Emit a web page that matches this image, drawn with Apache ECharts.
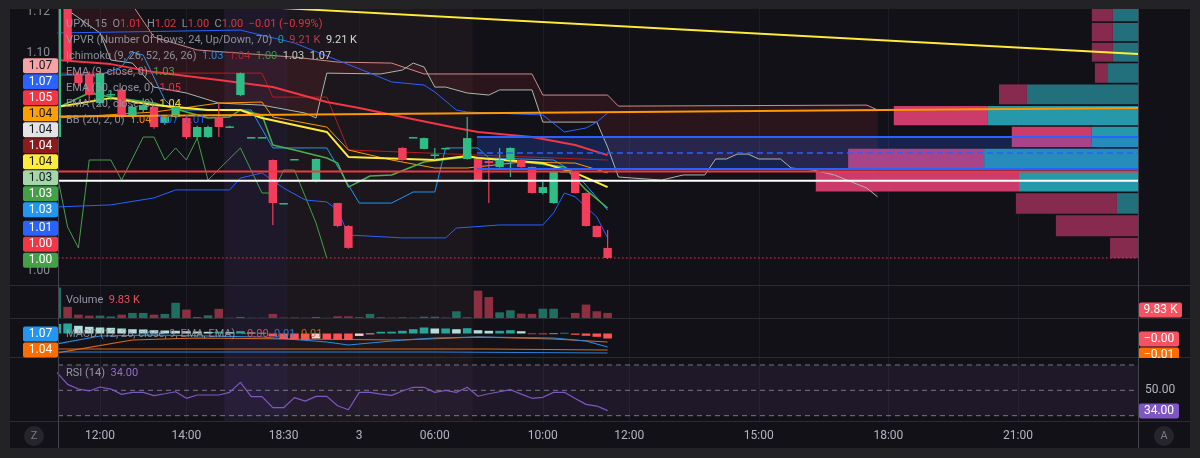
<!DOCTYPE html>
<html><head><meta charset="utf-8">
<script src="https://cdn.jsdelivr.net/npm/echarts@6/dist/echarts.min.js"></script>
<style>html,body{margin:0;padding:0;background:#131118;}#c{width:1200px;height:458px;}</style>
</head><body><div id="c"></div>
<script>
// ---------------- DATA ----------------
// bar index k (15-min bars, gaps skipped); time axis ticks
const tickIdx = [4, 12, 21, 28, 35, 45, 53, 65, 77, 89];
const tickText = ['12:00', '14:00', '18:30', '3', '06:00', '10:00', '12:00', '15:00', '18:00', '21:00'];
// price axis labels
const priceTicks = [0.9937, 1.10, 1.12];
const priceTickText = ['1.00', '1.10', '1.12'];
// candles: [k, open, close, low, high]
const candles = [
  [0, 1.0590, 1.1250, 1.0580, 1.1300], [1, 1.1250, 1.0966, 1.0950, 1.1300],
  [2, 1.0898, 1.0854, 1.0840, 1.0910], [3, 1.0898, 1.0795, 1.0760, 1.0910],
  [4, 1.0756, 1.0902, 1.0740, 1.0910], [5, 1.0795, 1.0800, 1.0770, 1.0820],
  [6, 1.0820, 1.0688, 1.0680, 1.0830], [7, 1.0688, 1.0737, 1.0680, 1.0745],
  [8, 1.0722, 1.0746, 1.0710, 1.0780], [9, 1.0737, 1.0639, 1.0630, 1.0745],
  [10, 1.0659, 1.0688, 1.0650, 1.0690], [11, 1.0688, 1.0737, 1.0680, 1.0745],
  [12, 1.0683, 1.0590, 1.0580, 1.0690], [13, 1.0590, 1.0639, 1.0585, 1.0645],
  [14, 1.0590, 1.0639, 1.0585, 1.0645], [15, 1.0688, 1.0639, 1.0590, 1.0756],
  [16, 1.0640, 1.0642, 1.0635, 1.0645], [17, 1.0795, 1.0902, 1.0790, 1.0905],
  [18, 1.0590, 1.0590, 1.0590, 1.0590], [19, 1.0590, 1.0590, 1.0590, 1.0590],
  [20, 1.0478, 1.0268, 1.0161, 1.0480], [21, 1.0268, 1.0268, 1.0268, 1.0268],
  [22, 1.0483, 1.0483, 1.0483, 1.0483], [24, 1.0376, 1.0483, 1.0370, 1.0485],
  [26, 1.0268, 1.0156, 1.0150, 1.0270], [27, 1.0156, 1.0049, 1.0045, 1.0160],
  [32, 1.0537, 1.0478, 1.0475, 1.0540], [33, 1.0590, 1.0590, 1.0590, 1.0590],
  [34, 1.0532, 1.0585, 1.0530, 1.0588], [35, 1.0500, 1.0505, 1.0478, 1.0537],
  [36, 1.0537, 1.0537, 1.0537, 1.0537], [38, 1.0483, 1.0585, 1.0480, 1.0688],
  [39, 1.0483, 1.0380, 1.0378, 1.0485], [40, 1.0473, 1.0463, 1.0268, 1.0478],
  [41, 1.0444, 1.0478, 1.0440, 1.0537], [42, 1.0478, 1.0537, 1.0395, 1.0540],
  [43, 1.0478, 1.0444, 1.0440, 1.0480], [44, 1.0444, 1.0317, 1.0315, 1.0446],
  [45, 1.0317, 1.0346, 1.0310, 1.0371], [46, 1.0268, 1.0424, 1.0265, 1.0426],
  [47, 1.0424, 1.0424, 1.0424, 1.0424], [48, 1.0424, 1.0317, 1.0315, 1.0426],
  [49, 1.0317, 1.0156, 1.0154, 1.0319], [50, 1.0156, 1.0102, 1.0100, 1.0158],
  [51, 1.0049, 1.0000, 0.9995, 1.0137]
];
const lastClose = 1.0000;
// volume (K) per bar, and direction (1 up / 0 down)
const volume = [59, 21.6, 6.5, 4.6, 4.6, 3, 6.5, 9.8, 9.8, 6.5,
  7.9, 29.5, 16.4, 2, 5.2, 17.7, 0.5, 2, 0.5, 0.5,
  7.9, 0.8, 1, 0.6, 2, 0.5, 3.3, 3.3, 1.5, 7.9,
  1.5, 0.8, 1.5, 0.8, 2.5, 2.5, 1, 13, 1.5, 53,
  40.6, 11, 15, 8.5, 7.9, 18, 18, 0.5, 9.8, 26,
  13, 9.83];
const volUp = [1,0,0,0,1,1,0,1,1,0, 1,1,0,1,1,0,1,1,1,1, 0,1,1,1,1,0,0,0,1,1,
  1,1,0,1,1,1,1,1,1,0, 0,1,1,0,0,1,1,1,0,0, 0,0];
// indicator lines [k, price]
const ema50 = [[0,1.0966],[5,1.0946],[9,1.0907],[15,1.0868],[20,1.0834],[22,1.0805],[25,1.0761],[28,1.0732],[32,1.0688],[37,1.0634],[39,1.0615],[44,1.0590],[48,1.0551],[51,1.0502]];
const ema20 = [[0,1.0737],[5,1.0780],[9,1.0746],[14,1.0722],[17,1.0722],[19,1.0683],[22,1.0649],[25,1.0615],[27,1.0493],[35,1.0478],[38,1.0498],[39,1.0488],[45,1.0463],[48,1.0415],[51,1.0346]];
const ema9 = [[0,1.0732],[3,1.0805],[5,1.0785],[9,1.0756],[12,1.0712],[14,1.0683],[16,1.0688],[17,1.0722],[19,1.0698],[20,1.0551],[22,1.0527],[25,1.0488],[26,1.0463],[27,1.0346],[29,1.0400],[31,1.0405],[34,1.0468],[38,1.0493],[44,1.0463],[47,1.0444],[49,1.0332],[51,1.0244]];
const bbMid = [[0,1.0683],[9,1.0712],[15,1.0756],[19,1.0761],[20,1.0688],[25,1.0639],[27,1.0527],[31,1.0478],[35,1.0439],[38,1.0439],[43,1.0468],[48,1.0463],[51,1.0415]];
const bbUp = [[0,1.1098],[17,1.1112],[22,1.1049],[29,1.0902],[31,1.0859],[34,1.0844],[35,1.0810],[37,1.0722],[38,1.0712],[45,1.0698],[47,1.0615],[49,1.0634],[50,1.0663],[51,1.0707]];
const bbLow = [[0,1.0249],[5,1.0259],[9,1.0293],[11,1.0332],[16,1.0332],[17,1.0390],[19,1.0415],[21,1.0341],[23,1.0283],[25,1.0273],[26,1.0234],[27,1.0112],[32,1.0098],[36,1.0098],[37,1.0146],[41,1.0161],[45,1.0161],[46,1.0220],[47,1.0317],[48,1.0298],[50,1.0200],[51,1.0098]];
const tenkan = [[0,1.0893],[4,1.0893],[6,1.0932],[7,1.1005],[8,1.0990],[10,1.0771],[11,1.0722],[18,1.0722],[20,1.0537],[25,1.0537],[27,1.0356],[28,1.0268],[31,1.0268],[33,1.0322],[35,1.0322],[36,1.0537],[39,1.0537],[40,1.0488],[46,1.0478],[48,1.0415],[51,1.0234]];
const kijun = [[0,1.0902],[19,1.0902],[20,1.0785],[25,1.0785],[27,1.0527],[32,1.0517],[39,1.0502],[51,1.0478]];
const chikou = [[0,1.0415],[1,1.0151],[2,1.0049],[3,1.0478],[5,1.0478],[6,1.0380],[8,1.0590],[9,1.0590],[10,1.0478],[11,1.0537],[12,1.0478],[13,1.0585],[14,1.0380],[17,1.0537],[19,1.0317],[20,1.0317],[21,1.0429],[22,1.0429],[24,1.0171],[25,1.0000]];
const spanA = [[1,1.1210],[4,1.1098],[5,1.0966],[7,1.0951],[9,1.0834],[12,1.0805],[15,1.0756],[19,1.0746],[23,1.0707],[24,1.0683],[25,1.0902],[30,1.0898],[32,1.0917],[33,1.0951],[34,1.0932],[35,1.0834],[36,1.0834],[38,1.0805],[40,1.0795],[41,1.0820],[44,1.0820],[45,1.0663],[50,1.0663],[51,1.0541],[52,1.0395],[56,1.0380],[58,1.0405],[60,1.0405],[61,1.0483],[62,1.0483],[63,1.0507],[64,1.0507],[65,1.0483],[67,1.0483],[68,1.0439],[70,1.0429],[72,1.0405],[75,1.0341],[76,1.0298]];
const spanB = [[0,1.1235],[7,1.1235],[9,1.1078],[13,1.1015],[22,1.0980],[26,1.0956],[31,1.0951],[34,1.0898],[44,1.0898],[45,1.0795],[51,1.0795],[52,1.0741],[75,1.0746],[76,1.0722]];
// drawings
const yellowTrend = [[20,1.1222],[100.11,1.0995]];
const orangeTrend = [[0.11,1.0690],[100.11,1.0732]];
const redLevel = 1.0422;
const whiteLevel = 1.0377;
const boxStart = 38.9, boxTop = 1.0590, boxBottom = 1.0434, boxMid = 1.0512;
// volume profile (VPVR): row edges (price), up / down volume (K), value-area flag
const vpEdges = [0.9995, 1.0102, 1.0212, 1.0320, 1.0429, 1.0537, 1.0644, 1.0746, 1.0851, 1.0954, 1.1054, 1.1151, 1.1254];
const vpUp = [0, 0, 8.2, 46.4, 60, 18, 58.5, 43.3, 11.7, 9.8, 9.8, 9.8];
const vpDown = [10.9, 32, 39.4, 79.2, 53, 31.2, 36.7, 10.9, 5.1, 8.2, 8.2, 8.2];
const vpVA = [0, 0, 0, 1, 1, 1, 1, 0, 0, 0, 0, 0];
// MACD histogram per bar
const macdHist = [0.0048, 0.0050, 0.00385, 0.00335, 0.0030, 0.00285, 0.0025, 0.00215, 0.0020, 0.00165,
  0.0015, 0.00135, 0.00115, 0.0010, 0.00085, 0.0009, 0.00065, 0.00115, 0.0005, 0.00035,
  -0.0015, -0.0028, -0.003, -0.0032, -0.0025, -0.0028, -0.0031, -0.0033, -0.0012, -0.0004,
  0.00085, 0.0009, 0.00135, 0.00215, 0.003, 0.0025, 0.0025, 0.00215, 0.00265, 0.00165,
  0.00135, 0.00135, 0.00165, 0.00115, -0.00035, -0.0004, -0.0003, 0.00035, -0.00065, -0.00115,
  -0.00165, -0.0025];
const macdBlue1 = [[0,1.0342],[4,1.0553],[9,1.0579],[19,1.0526],[25,1.0395],[27,1.0316],[32,1.0447],[35,1.0500],[39,1.0526],[46,1.0500],[49,1.0421],[51,1.0263]];
const macdOrange1 = [[0,1.0105],[7,1.0447],[13,1.0500],[22,1.0474],[32,1.0447],[39,1.0526],[46,1.0474],[51,1.0395]];
const macdBlue2 = [[0,1.0132],[20,1.0132],[35,1.0132],[51,1.0105]];
const macdOrange2 = [[0,1.0211],[25,1.0211],[40,1.0211],[51,1.0184]];
// RSI per bar
const rsi = [64.2, 54.7, 51, 49.5, 52.6, 51, 46.8, 48.4, 48.4, 45.8,
  47.3, 48.9, 43.7, 46.3, 46.3, 46.3, 48.4, 56.3, 45, 45,
  36.3, 36.3, 44.2, 41.5, 45.2, 45.2, 37.8, 34.7, 48.4, 48.4,
  47, 46, 49.5, 52.4, 52.4, 48.4, 50, 48.4, 52.4, 45.3,
  47.3, 48.9, 50.5, 47, 43.7, 44.5, 48.4, 48.4, 43.5, 38.9,
  37.6, 34.0];
const rsiLevels = [70, 50, 30];
// session shading [startK, endK]
const sessions = [[15.5, 21.4], [21.4, 38.5]];
// left price tags (stacked) and colours
const leftTagText = ['1.07', '1.07', '1.05', '1.04', '1.04', '1.04', '1.04', '1.03', '1.03', '1.03', '1.01', '1.00', '1.00'];

// ---------------- CHART ----------------
const FONT = 'Roboto, "Noto Sans", sans-serif';
const X0 = 0.11, X1 = 100.11, VPMAX = 421;
const UP = '#2ebd85', DN = '#f23d5b';
const chart = echarts.init(document.getElementById('c'));

const gridAxes = [[0, 0], [2, 1], [3, 2], [4, 4]];
const sessionFill = ['rgba(126,87,194,0.11)', 'rgba(190,130,110,0.055)'];
const series = [];
gridAxes.forEach(([xi, yi]) => {
  series.push({
    type: 'custom', xAxisIndex: xi, yAxisIndex: yi, z: 0, silent: true, clip: true,
    data: sessions.map(s => [s[0], s[1]]),
    renderItem: (p, api) => {
      const cs = p.coordSys;
      const a = api.coord([api.value(0), 0])[0], b = api.coord([api.value(1), 0])[0];
      return { type: 'rect', shape: { x: a, y: cs.y, width: b - a, height: cs.height }, style: { fill: sessionFill[p.dataIndex] } };
    }
  });
  series.push({
    type: 'custom', xAxisIndex: xi, yAxisIndex: yi, z: 1, silent: true, clip: true,
    data: tickIdx.map(k => [k]),
    renderItem: (p, api) => {
      const cs = p.coordSys;
      const x = Math.round(api.coord([api.value(0), 0])[0]) + 0.5;
      return { type: 'line', shape: { x1: x, y1: cs.y, x2: x, y2: cs.y + cs.height }, style: { stroke: '#1f1c28', lineWidth: 1 } };
    }
  });
});

// Ichimoku cloud fill
series.push({
  type: 'custom', xAxisIndex: 0, yAxisIndex: 0, z: 2, silent: true, clip: true, data: [[0]],
  renderItem: (p, api) => {
    const pts = spanA.map(q => api.coord(q)).concat(spanB.slice().reverse().map(q => api.coord(q)));
    return { type: 'polygon', shape: { points: pts }, style: { fill: 'rgba(242,54,69,0.10)' } };
  }
});
// VPVR profile
series.push({
  type: 'custom', xAxisIndex: 1, yAxisIndex: 0, z: 3, silent: true, clip: true,
  data: vpUp.map((_, i) => [i]),
  renderItem: (p, api) => {
    const i = api.value(0);
    const pR = api.coord([0, vpEdges[i]]);
    const pU = api.coord([vpUp[i], vpEdges[i + 1]]);
    const pT = api.coord([vpUp[i] + vpDown[i], vpEdges[i + 1]]);
    const yT = pU[1] + 0.8, h = pR[1] - pU[1] - 1.6;
    const va = vpVA[i];
    return { type: 'group', children: [
      { type: 'rect', shape: { x: pU[0], y: yT, width: pR[0] - pU[0], height: h }, style: { fill: va ? '#2598a9' : '#22707c' } },
      { type: 'rect', shape: { x: pT[0], y: yT, width: pU[0] - pT[0], height: h }, style: { fill: va ? '#cc3c6a' : '#862a4e' } }
    ] };
  }
});
// range box fill
series.push({
  type: 'custom', xAxisIndex: 0, yAxisIndex: 0, z: 4, silent: true, clip: true, data: [[boxStart, boxTop, boxBottom]],
  renderItem: (p, api) => {
    const a = api.coord([api.value(0), api.value(1)]), b = api.coord([X1, api.value(2)]);
    return { type: 'rect', shape: { x: a[0], y: a[1], width: b[0] - a[0], height: b[1] - a[1] }, style: { fill: 'rgba(41,98,255,0.22)' } };
  }
});

function line(data, color, width, z, xi, yi, type) {
  return { type: 'line', xAxisIndex: xi || 0, yAxisIndex: yi || 0, data, showSymbol: false, symbol: 'none', z: z, silent: true,
    lineStyle: { color, width, type: type || 'solid' }, animation: false };
}
series.push(line(spanB, '#d08a8a', 1, 5));
series.push(line(spanA, '#a9b8aa', 1, 5));
series.push(line(kijun, '#b71c1c', 1, 5));
series.push(line(chikou, '#43a047', 1, 5));
series.push(line(tenkan, '#2196f3', 1, 5));
series.push(line(bbUp, '#2962ff', 1, 5));
series.push(line(bbLow, '#2962ff', 1, 5));
series.push(line(bbMid, '#ff9800', 1, 5));
series.push(line(ema9, '#4caf50', 1.5, 5));
series.push(line(ema20, '#ffeb3b', 2, 5));
series.push(line(ema50, '#f23645', 2, 5));

// candles
series.push({
  type: 'custom', xAxisIndex: 0, yAxisIndex: 0, z: 6, silent: true, clip: true, data: candles,
  encode: { x: 0, y: [1, 2, 3, 4] },
  renderItem: (p, api) => {
    const k = api.value(0), o = api.value(1), c = api.value(2), l = api.value(3), h = api.value(4);
    const pO = api.coord([k, o]), pC = api.coord([k, c]), pL = api.coord([k, l]), pH = api.coord([k, h]);
    const col = c >= o ? UP : DN;
    const top = Math.min(pO[1], pC[1]), bh = Math.max(Math.abs(pO[1] - pC[1]), 1.5);
    return { type: 'group', children: [
      { type: 'rect', shape: { x: pO[0] - 0.6, y: pH[1], width: 1.2, height: Math.max(pL[1] - pH[1], 1) }, style: { fill: col } },
      { type: 'rect', shape: { x: pO[0] - 4.2, y: top, width: 8.4, height: bh }, style: { fill: col } }
    ] };
  }
});

// drawings on top
series.push(line(yellowTrend, '#ffeb3b', 2, 8));
series.push(line(orangeTrend, '#ff9800', 2, 8));
series.push(line([[X0, redLevel], [X1, redLevel]], '#f23645', 2, 8));
series.push(line([[X0, whiteLevel], [X1, whiteLevel]], '#ffffff', 2, 8));
series.push(line([[boxStart, boxTop], [X1, boxTop]], '#2962ff', 2, 8));
series.push(line([[boxStart, boxBottom], [X1, boxBottom]], '#2962ff', 2, 8));
series.push(line([[boxStart, boxMid], [X1, boxMid]], '#2962ff', 1.5, 8, 0, 0, [6, 4]));
series.push(line([[X0, lastClose], [X1, lastClose]], '#f23645', 1, 8, 0, 0, [1.5, 2.5]));

// volume
series.push({
  type: 'custom', xAxisIndex: 2, yAxisIndex: 1, z: 6, silent: true, clip: true,
  data: volume.map((v, k) => [k, v, volUp[k]]),
  renderItem: (p, api) => {
    const k = api.value(0), v = api.value(1);
    const a = api.coord([k, 0]), b = api.coord([k, v]);
    return { type: 'rect', shape: { x: a[0] - 4.3, y: b[1], width: 8.6, height: a[1] - b[1] }, style: { fill: api.value(2) ? '#1f6e5f' : '#8c2f41' } };
  }
});
// MACD
series.push({
  type: 'custom', xAxisIndex: 3, yAxisIndex: 2, z: 6, silent: true, clip: true,
  data: macdHist.map((v, k) => [k, v]),
  renderItem: (p, api) => {
    const k = api.value(0), v = api.value(1);
    const prev = k > 0 ? macdHist[k - 1] : v;
    let col;
    if (v >= 0) col = v >= prev ? '#26a69a' : '#b2dfdb';
    else col = v < prev ? '#ff5252' : '#ffcdd2';
    const a = api.coord([k, 0]), b = api.coord([k, v]);
    return { type: 'rect', shape: { x: a[0] - 4.3, y: Math.min(a[1], b[1]), width: 8.6, height: Math.abs(a[1] - b[1]) }, style: { fill: col } };
  }
});
series.push(line(macdBlue2, '#2a7fd8', 1.2, 5, 3, 3));
series.push(line(macdOrange2, '#d8691c', 1.2, 5, 3, 3));
series.push(line(macdOrange1, '#d8691c', 1.2, 5, 3, 3));
series.push(line(macdBlue1, '#2a8be0', 1.2, 5, 3, 3));
// RSI
series.push({
  type: 'custom', xAxisIndex: 4, yAxisIndex: 4, z: 1, silent: true, clip: true, data: [[rsiLevels[0], rsiLevels[2]]],
  renderItem: (p, api) => {
    const a = api.coord([X0, api.value(0)]), b = api.coord([X1, api.value(1)]);
    return { type: 'rect', shape: { x: a[0], y: a[1], width: b[0] - a[0], height: b[1] - a[1] }, style: { fill: 'rgba(126,87,194,0.10)' } };
  }
});
rsiLevels.forEach(l => series.push(line([[X0, l], [X1, l]], 'rgba(150,152,162,0.75)', 1, 4, 4, 4, [5, 4])));
series.push(line(rsi.map((v, k) => [k, v]), '#7e57c2', 1.2, 6, 4, 4));

// ---------------- GRAPHICS (text, tags, frame) ----------------
const GRAY = '#9a9da6';
const G = [];
function richLine(x, y, parts, size, op) {
  const rich = {}; let s = '';
  parts.forEach((p, i) => { rich['p' + i] = { fill: p[1], fontSize: size, fontFamily: FONT }; s += '{p' + i + '|' + p[0] + '}'; });
  return { type: 'text', x, y, z: 150, silent: true, style: { text: s, rich, fontSize: size, fontFamily: FONT, verticalAlign: 'middle', opacity: op || 1 } };
}
function tag(x, yc, w, text, bg, fg) {
  return { type: 'group', silent: true, children: [
    { type: 'rect', z: 160, shape: { x, y: yc - 7.5, width: w, height: 15, r: 2 }, style: { fill: bg } },
    { type: 'text', z: 161, x: x + w / 2, y: yc, style: { text, fill: fg, fontSize: 12, fontFamily: FONT, align: 'center', verticalAlign: 'middle' } }
  ] };
}
const RED = '#f23645';
G.push(richLine(66, 24, [['UPXI, 15  O', GRAY], ['1.01', RED], ['  H', GRAY], ['1.02', RED], ['  L', GRAY], ['1.00', RED], ['  C', GRAY], ['1.00', RED], ['  \u22120.01 (\u22120.99%)', RED]], 11, 0.9));
G.push(richLine(66, 40, [['VPVR (Number Of Rows, 24, Up/Down, 70)  ', GRAY], ['0', '#22ab94'], ['  9.21 K', '#c2405a'], ['  9.21 K', '#e8e8e8']], 11, 0.9));
G.push(richLine(66, 56, [['Ichimoku (9, 26, 52, 26, 26)  ', GRAY], ['1.03', '#2196f3'], ['  1.04', '#b22a2a'], ['  1.00', '#43a047'], ['  1.03', '#cfd4cf'], ['  1.07', '#eadede']], 11, 0.9));
G.push(richLine(66, 72, [['EMA (9, close, 0)  ', GRAY], ['1.03', '#4caf50']], 11, 0.9));
G.push(richLine(66, 88, [['EMA (50, close, 0)  ', GRAY], ['1.05', RED]], 11, 0.9));
G.push(richLine(66, 104, [['EMA (20, close, 0)  ', GRAY], ['1.04', '#ffeb3b']], 11, 0.9));
G.push(richLine(66, 120, [['BB (20, 2, 0)  ', GRAY], ['1.04', '#ff9800'], ['  1.07', '#2962ff'], ['  1.01', '#2962ff']], 11, 0.9));
G.push(richLine(66, 300, [['Volume  ', GRAY], ['9.83 K', '#f7525f']], 11, 0.95));
G.push(richLine(66, 334, [['MACD (12, 26, close, 9, EMA, EMA)  ', GRAY], ['\u22120.00', '#f7525f'], ['  0.01', '#2a8be0'], ['  0.01', '#e07020']], 11, 0.85));
G.push(richLine(66, 373, [['RSI (14)  ', GRAY], ['34.00', '#9575cd']], 11, 0.95));

const tagBg = ['#f5a3a3', '#2962ff', '#f23645', '#ffa000', '#e4e4e4', '#8e1b1b', '#ffeb3b', '#a5d6a7', '#43a047', '#2196f3', '#2962ff', '#f23645', '#43a047'];
const tagFg = ['#131722', '#fff', '#fff', '#131722', '#131722', '#fff', '#131722', '#131722', '#fff', '#fff', '#fff', '#fff', '#fff'];
leftTagText.forEach((t, i) => {
  const yc = i < 10 ? 65.7 + 16 * i : 228.3 + 16 * (i - 10);
  G.push(tag(23, yc, 35, t, tagBg[i], tagFg[i]));
});
G.push(tag(23, 334, 35, '1.07', '#2196f3', '#fff'));
G.push(tag(23, 350, 35, '1.04', '#ff6d00', '#fff'));
G.push(tag(1139, 310, 43, '9.83 K', '#f7525f', '#fff'));
G.push(tag(1139, 339, 40, '\u22120.00', '#f7525f', '#fff'));
G.push(tag(1139, 355, 40, '\u22120.01', '#ff6d00', '#fff'));
G.push({ type: 'rect', z: 170, silent: true, shape: { x: 1139, y: 358, width: 45, height: 6 }, style: { fill: '#131118' } });
G.push(tag(1139, 411, 40, '34.00', '#7e57c2', '#fff'));

// separators and axis borders
[285.5, 318.5, 357.5, 421.5].forEach(y => G.push({ type: 'line', z: 140, silent: true, shape: { x1: 10, y1: y, x2: 1190, y2: y }, style: { stroke: '#2c2b33', lineWidth: 1 } }));
[58.5, 1138.5].forEach(x => G.push({ type: 'line', z: 140, silent: true, shape: { x1: x, y1: 9, x2: x, y2: 448 }, style: { stroke: '#45444e', lineWidth: 1 } }));
// corner buttons
[[34, 'Z'], [1164, 'A']].forEach(([x, t]) => {
  G.push({ type: 'circle', z: 150, silent: true, shape: { cx: x, cy: 436, r: 10 }, style: { fill: '#26252c' } });
  G.push({ type: 'text', z: 151, silent: true, x, y: 436, style: { text: t, fill: '#787b86', fontSize: 11, fontFamily: FONT, align: 'center', verticalAlign: 'middle' } });
});
// outer frame
[[0, 0, 1200, 9], [0, 0, 10, 458], [1190, 0, 10, 458], [0, 448, 1200, 10]].forEach(r =>
  G.push({ type: 'rect', z: 200, silent: true, shape: { x: r[0], y: r[1], width: r[2], height: r[3] }, style: { fill: '#232325' } }));

const noAxis = { show: false };
chart.setOption({
  animation: false,
  backgroundColor: '#131118',
  grid: [
    { left: 58, top: 9, width: 1080, height: 276 },
    { left: 58, top: 286, width: 1080, height: 32 },
    { left: 58, top: 319, width: 1080, height: 38 },
    { left: 58, top: 358, width: 1080, height: 63 }
  ],
  xAxis: [
    { gridIndex: 0, type: 'value', min: X0, max: X1, show: false },
    { gridIndex: 0, type: 'value', min: 0, max: VPMAX, inverse: true, show: false },
    { gridIndex: 1, type: 'value', min: X0, max: X1, show: false },
    { gridIndex: 2, type: 'value', min: X0, max: X1, show: false },
    { gridIndex: 3, type: 'value', min: X0, max: X1, position: 'bottom',
      axisLine: { show: false }, axisTick: { show: false }, splitLine: { show: false },
      axisLabel: { customValues: tickIdx, color: '#b2b5be', fontSize: 12, fontFamily: FONT, margin: 9,
        formatter: v => { const i = tickIdx.indexOf(Math.round(v)); return i >= 0 ? tickText[i] : ''; } } }
  ],
  yAxis: [
    { gridIndex: 0, type: 'value', min: 0.9868, max: 1.1215, position: 'left',
      axisLine: { show: false }, axisTick: { show: false }, splitLine: { show: false },
      axisLabel: { customValues: priceTicks, color: '#8b8e97', fontSize: 12, fontFamily: FONT, margin: 8,
        formatter: v => { let b = 0, d = 9; priceTicks.forEach((t, i) => { if (Math.abs(t - v) < d) { d = Math.abs(t - v); b = i; } }); return priceTickText[b]; } } },
    { gridIndex: 1, type: 'value', min: 0, max: 62, show: false },
    { gridIndex: 2, type: 'value', min: -0.01175, max: 0.00725, show: false },
    { gridIndex: 2, type: 'value', min: 1.00, max: 1.10, show: false },
    { gridIndex: 3, type: 'value', min: 25.8, max: 75.5, position: 'right',
      axisLine: { show: false }, axisTick: { show: false }, splitLine: { show: false },
      axisLabel: { customValues: [50], color: '#b2b5be', fontSize: 12, fontFamily: FONT, margin: 7, formatter: v => v.toFixed(2) } }
  ],
  series,
  graphic: G
});
</script></body></html>
